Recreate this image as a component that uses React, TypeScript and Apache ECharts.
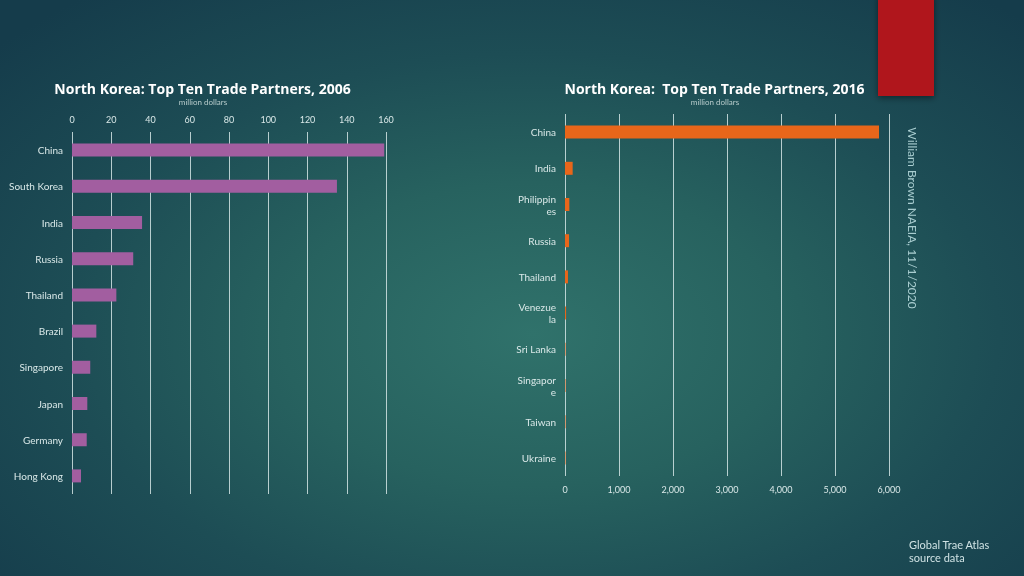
import React, { useEffect, useRef } from "react";
import * as echarts from "echarts";

const leftCategories = ["China", "South Korea", "India", "Russia", "Thailand", "Brazil", "Singapore", "Japan", "Germany", "Hong Kong"];
const leftValues = [159.1, 135, 35.7, 31.2, 22.6, 12.4, 9.3, 7.8, 7.5, 4.6];

const rightCategories = ["China", "India", "Philippines", "Russia", "Thailand", "Venezuela", "Sri Lanka", "Singapore", "Taiwan", "Ukraine"];
const rightLabels = ["China", "India", "Philippin\nes", "Russia", "Thailand", "Venezue\nla", "Sri Lanka", "Singapor\ne", "Taiwan", "Ukraine"];
const rightValues = [5815, 142, 80, 75, 55, 20, 10, 10, 10, 10];

const leftTitle = "North Korea: Top Ten Trade Partners, 2006";
const rightTitle = "North Korea:  Top Ten Trade Partners, 2016";
const unitText = "million dollars";
const creditText = "William Brown NAEIA, 11/1/2020";
const sourceText = "Global Trae Atlas\nsource data";

const FONT = "Lato, 'Open Sans', sans-serif";
const TITLE_FONT = "'Open Sans', Lato, sans-serif";
const labelColor = "#d9e8e8";
const gridColor = "rgba(210,228,228,0.85)";

export default function App() {
  const ref = useRef<HTMLDivElement>(null);
  useEffect(() => {
    if (!ref.current) return;
    const chart = echarts.init(ref.current, undefined, { renderer: "svg" });
    chart.setOption({
      animation: false,
      backgroundColor: "transparent",
      textStyle: { fontFamily: FONT },
      title: [
        {
          text: leftTitle,
          left: 197.5,
          top: 76,
          textAlign: "center",
          textStyle: { color: "#ffffff", fontSize: 14, fontWeight: "bold", fontFamily: TITLE_FONT },
        },
        {
          text: unitText,
          left: 198,
          top: 93,
          textAlign: "center",
          textStyle: { color: "#b8cccc", fontSize: 8, fontWeight: "normal", fontFamily: FONT },
        },
        {
          text: rightTitle,
          left: 709.5,
          top: 76,
          textAlign: "center",
          textStyle: { color: "#ffffff", fontSize: 14, fontWeight: "bold", fontFamily: TITLE_FONT },
        },
        {
          text: unitText,
          left: 710,
          top: 93,
          textAlign: "center",
          textStyle: { color: "#b8cccc", fontSize: 8, fontWeight: "normal", fontFamily: FONT },
        },
      ],
      grid: [
        { left: 72, top: 132, width: 314, height: 362, containLabel: false },
        { left: 565, top: 114, width: 324, height: 362, containLabel: false },
      ],
      xAxis: [
        {
          gridIndex: 0,
          type: "value",
          position: "top",
          min: 0,
          max: 160,
          interval: 20,
          axisLine: { show: false },
          axisTick: { show: false },
          axisLabel: { color: labelColor, fontSize: 9, margin: 8, fontFamily: FONT },
          splitLine: { show: true, lineStyle: { color: gridColor, width: 1 } },
        },
        {
          gridIndex: 1,
          type: "value",
          position: "bottom",
          min: 0,
          max: 6000,
          interval: 1000,
          axisLine: { show: false },
          axisTick: { show: false },
          axisLabel: {
            color: labelColor,
            fontSize: 9,
            margin: 9,
            fontFamily: FONT,
            formatter: (v: number) => v.toLocaleString("en-US"),
          },
          splitLine: { show: true, lineStyle: { color: gridColor, width: 1 } },
        },
      ],
      yAxis: [
        {
          gridIndex: 0,
          type: "category",
          data: leftCategories,
          inverse: true,
          axisLine: { show: false },
          axisTick: { show: false },
          axisLabel: { color: labelColor, fontSize: 10, margin: 9, fontFamily: FONT },
        },
        {
          gridIndex: 1,
          type: "category",
          data: rightCategories,
          inverse: true,
          axisLine: { show: false },
          axisTick: { show: false },
          axisLabel: {
            color: labelColor,
            fontSize: 10,
            margin: 9,
            lineHeight: 12,
            fontFamily: FONT,
            formatter: (_v: string, i: number) => rightLabels[i],
          },
        },
      ],
      series: [
        {
          type: "bar",
          xAxisIndex: 0,
          yAxisIndex: 0,
          data: leftValues,
          barWidth: 13,
          itemStyle: { color: "#a25ea0" },
        },
        {
          type: "bar",
          xAxisIndex: 1,
          yAxisIndex: 1,
          data: rightValues,
          barWidth: 13,
          itemStyle: { color: "#e8661a" },
        },
      ],
      graphic: [
        {
          type: "rect",
          shape: { x: 878, y: -5, width: 56, height: 101 },
          style: {
            fill: "#b0171a",
            shadowBlur: 6,
            shadowOffsetY: 2,
            shadowColor: "rgba(0,0,0,0.45)",
          },
        },
        {
          type: "text",
          x: 912,
          y: 218,
          rotation: -Math.PI / 2,
          style: {
            text: creditText,
            fill: "#a9cdd0",
            fontSize: 12,
            fontFamily: FONT,
            align: "center",
            verticalAlign: "middle",
          },
        },
        {
          type: "text",
          x: 909,
          y: 538,
          style: {
            text: sourceText,
            fill: "#cfe2e4",
            fontSize: 11,
            lineHeight: 13,
            fontFamily: FONT,
            align: "left",
            verticalAlign: "top",
          },
        },
      ],
    });
    return () => chart.dispose();
  }, []);

  return (
    <div
      style={{
        position: "fixed",
        left: 0,
        top: 0,
        width: 1024,
        height: 576,
        background:
          "radial-gradient(ellipse 70% 75% at 52% 58%, #30726b 0%, #27625f 35%, #1d4d55 65%, #153c4b 100%)",
      }}
    >
      <div ref={ref} style={{ width: 1024, height: 576 }} />
    </div>
  );
}
